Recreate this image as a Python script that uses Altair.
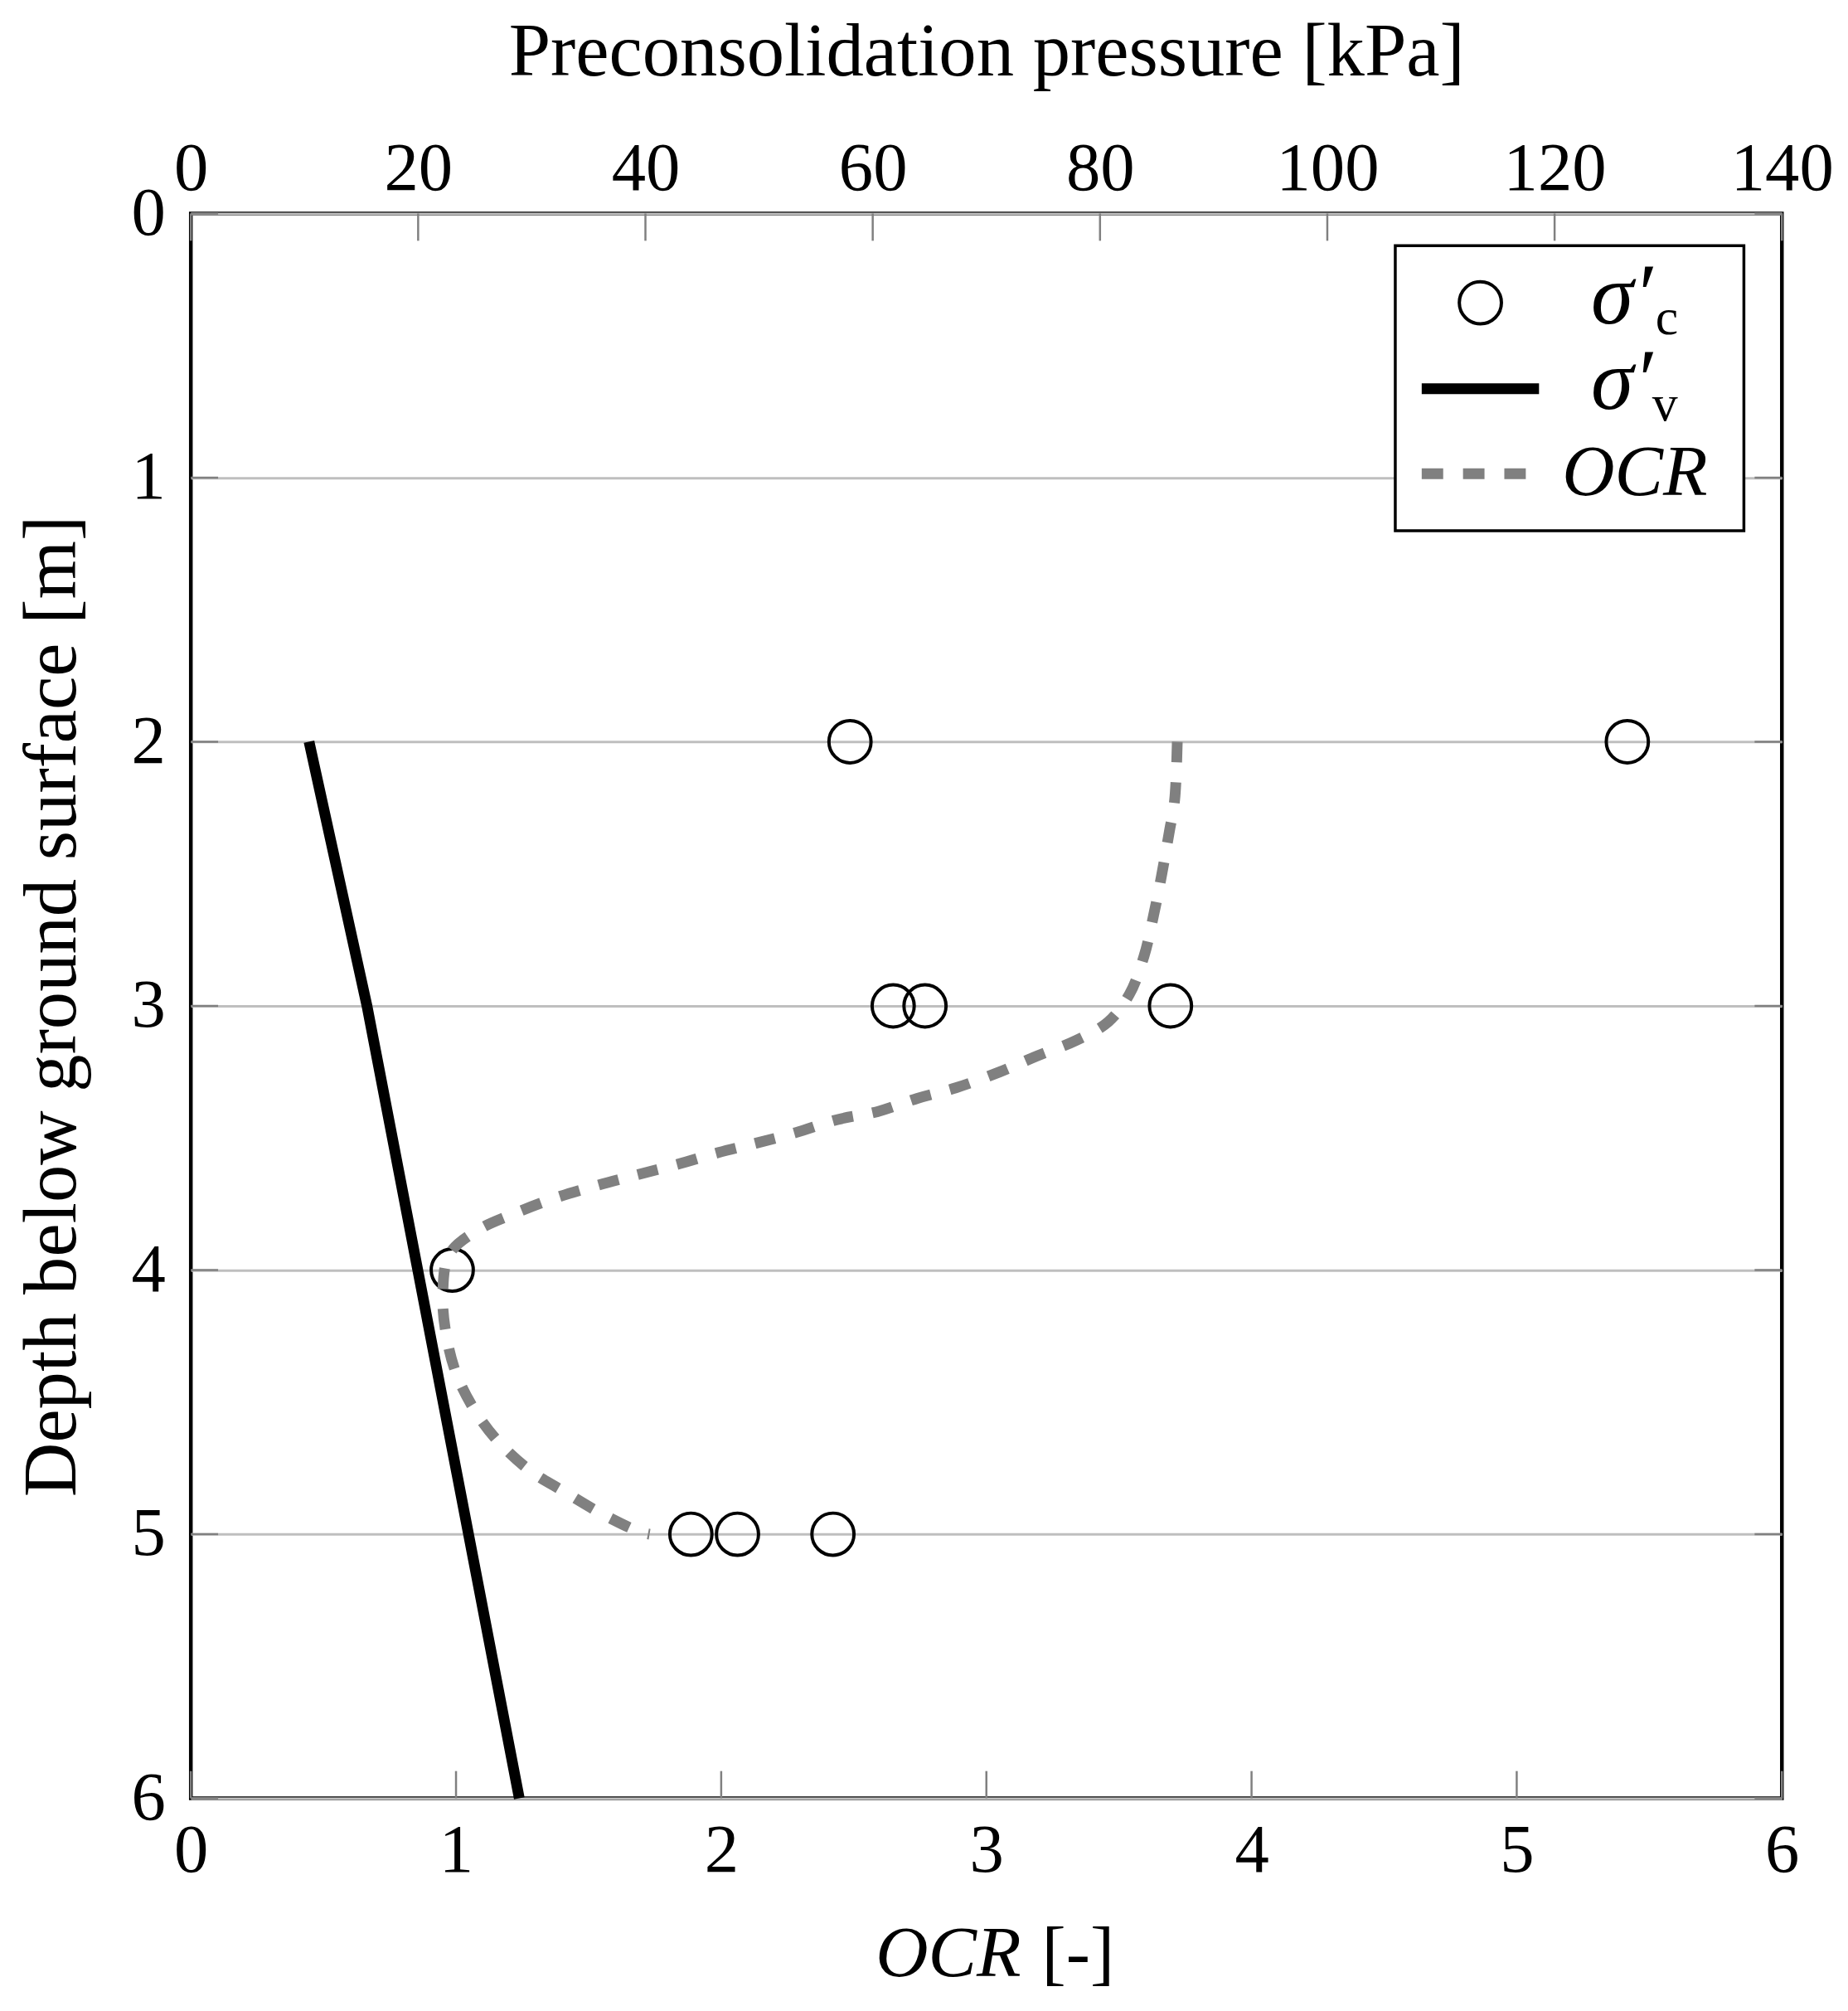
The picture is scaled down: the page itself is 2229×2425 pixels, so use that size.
import altair as alt
import pandas as pd

# ---------------- data ----------------
# preconsolidation pressure sigma'_c (circles) [kPa] vs depth [m]
sc_depth = [2, 2, 3, 3, 3, 4, 5, 5, 5]
sc_pressure = [58.0, 126.4, 61.8, 64.6, 86.2, 23.0, 44.0, 48.1, 56.5]

# effective vertical stress sigma'_v [kPa] vs depth [m]
sv_depth = [2, 3, 6]
sv_pressure = [10.4, 15.5, 28.9]

# OCR profile [-] vs depth [m]
ocr_depth = [2.00, 2.22, 2.34, 2.51, 2.66, 2.81, 2.955, 3.06, 3.13, 3.19, 3.25,
             3.31, 3.35, 3.40, 3.43, 3.48, 3.52, 3.555, 3.60, 3.64, 3.68, 3.73,
             3.79, 3.85, 3.94, 4.09, 4.24, 4.39, 4.53, 4.65, 4.76, 4.84, 4.92,
             4.99, 5.00]
ocr_value = [3.72, 3.71, 3.69, 3.66, 3.63, 3.595, 3.54, 3.46, 3.34, 3.19, 3.05,
             2.885, 2.74, 2.59, 2.44, 2.28, 2.13, 1.99, 1.835, 1.68, 1.53, 1.365,
             1.21, 1.08, 0.975, 0.95, 0.962, 1.0, 1.07, 1.16, 1.28, 1.41, 1.545,
             1.69, 1.73]

depth_ticks = [0, 1, 2, 3, 4, 5, 6]
pressure_ticks = [0, 20, 40, 60, 80, 100, 120, 140]
ocr_ticks = [0, 1, 2, 3, 4, 5, 6]

top_title = "Preconsolidation pressure [kPa]"
left_title = "Depth below ground surface [m]"
bottom_title_italic = "OCR"
bottom_title_rest = "[-]"
legend_sigma = "σ′"
legend_sub_c = "c"
legend_sub_v = "v"
legend_ocr = "OCR"

# ---------------- styling ----------------
W, H = 1926, 1918
FONT = "Liberation Serif"
FS = 88      # bottom title / legend text
TFS = 91     # top and left axis titles
LFS = 83     # tick labels
GRID = "#bfbfbf"
TICK = "#808080"
OCR_COLOR = "#808080"
TL = 33  # inward tick length

sc_df = pd.DataFrame({"depth": sc_depth, "pressure": sc_pressure})
sv_df = pd.DataFrame({"depth": sv_depth, "pressure": sv_pressure,
                      "i": list(range(len(sv_depth)))})
ocr_df = pd.DataFrame({"depth": ocr_depth, "ocr": ocr_value,
                       "i": list(range(len(ocr_depth)))})
dt_df = pd.DataFrame({"depth": depth_ticks})
pt_df = pd.DataFrame({"pressure": pressure_ticks})
ot_df = pd.DataFrame({"ocr": ocr_ticks})
one = pd.DataFrame({"k": [0]})

yscale = alt.Scale(domain=[0, 6], reverse=True, nice=False, zero=False)
pscale = alt.Scale(domain=[0, 140], nice=False, zero=False)
oscale = alt.Scale(domain=[0, 6], nice=False, zero=False)

# the same y axis is given to every layer that encodes depth, so they merge
y_axis = alt.Axis(values=depth_ticks, title=left_title, grid=True,
                  gridColor=GRID, gridWidth=3, ticks=False, tickSize=0,
                  domain=False, labelFont=FONT, labelFontSize=LFS,
                  labelColor="black", labelPadding=31, labelFlush=False,
                  labelOverlap=False, titleFont=FONT, titleFontSize=TFS,
                  titleFontWeight="normal", titleColor="black",
                  titleAngle=270, titleBaseline="alphabetic",
                  titleAlign="center", titleX=-140, titleY=H / 2)

top_axis = alt.Axis(orient="top", values=pressure_ticks, title=top_title,
                    grid=False, ticks=False, tickSize=0, domain=False,
                    labelFont=FONT, labelFontSize=LFS, labelColor="black",
                    labelBaseline="alphabetic", labelPadding=29,
                    labelFlush=False, labelOverlap=False, titleFont=FONT,
                    titleFontSize=TFS, titleFontWeight="normal",
                    titleColor="black", titleBaseline="alphabetic",
                    titleAlign="center", titleX=W / 2, titleY=-168)

bottom_axis = alt.Axis(orient="bottom", values=ocr_ticks, title="",
                       grid=False, ticks=False, tickSize=0, domain=False,
                       labelFont=FONT, labelFontSize=LFS, labelColor="black",
                       labelBaseline="alphabetic", labelPadding=88,
                       labelFlush=False, labelOverlap=False)


def Yd():
    return alt.Y("depth:Q", scale=yscale, axis=y_axis)


# ---------------- data layers ----------------
circles = alt.Chart(sc_df).mark_point(
    shape="circle", filled=False, size=2600, stroke="black",
    strokeWidth=4, opacity=1
).encode(
    x=alt.X("pressure:Q", scale=pscale, axis=top_axis),
    y=Yd(),
)

sv_line = alt.Chart(sv_df).mark_line(
    color="black", strokeWidth=13, strokeCap="butt"
).encode(
    x=alt.X("pressure:Q", scale=pscale, axis=None),
    y=Yd(),
    order=alt.Order("i:Q"),
)

top_ticks = alt.Chart(pt_df).mark_rule(color=TICK, strokeWidth=2.5).encode(
    x=alt.X("pressure:Q", scale=pscale, axis=None),
    y=alt.value(0), y2=alt.value(TL),
)

ocr_line = alt.Chart(ocr_df).mark_line(
    color=OCR_COLOR, strokeWidth=13, strokeDash=[25, 24], strokeCap="butt",
    interpolate="catmull-rom"
).encode(
    x=alt.X("ocr:Q", scale=oscale, axis=bottom_axis),
    y=Yd(),
    order=alt.Order("i:Q"),
)

bottom_ticks = alt.Chart(ot_df).mark_rule(color=TICK, strokeWidth=2.5).encode(
    x=alt.X("ocr:Q", scale=oscale, axis=None),
    y=alt.value(H - TL), y2=alt.value(H),
)

left_ticks = alt.Chart(dt_df).mark_rule(color=TICK, strokeWidth=2.5).encode(
    y=Yd(), x=alt.value(0), x2=alt.value(TL),
)
right_ticks = alt.Chart(dt_df).mark_rule(color=TICK, strokeWidth=2.5).encode(
    y=Yd(), x=alt.value(W - TL), x2=alt.value(W),
)

# bottom axis title with italic OCR
bt1 = alt.Chart(one).mark_text(
    text=bottom_title_italic, font=FONT, fontSize=FS, fontStyle="italic",
    align="right", baseline="alphabetic", color="black"
).encode(x=alt.value(1005), y=alt.value(H + 215))
bt2 = alt.Chart(one).mark_text(
    text=bottom_title_rest, font=FONT, fontSize=FS,
    align="left", baseline="alphabetic", color="black"
).encode(x=alt.value(1030), y=alt.value(H + 215))

# ---------------- legend ----------------
lg_box = alt.Chart(one).mark_rect(
    fill="white", stroke="black", strokeWidth=3.5
).encode(x=alt.value(1458), x2=alt.value(1880),
         y=alt.value(39), y2=alt.value(384))
lg_circle = alt.Chart(one).mark_point(
    shape="circle", filled=False, size=2600, stroke="black",
    strokeWidth=4, opacity=1
).encode(x=alt.value(1561), y=alt.value(108))
lg_solid = alt.Chart(one).mark_rule(
    color="black", strokeWidth=13, strokeCap="butt"
).encode(x=alt.value(1490), x2=alt.value(1632), y=alt.value(212))
lg_dash = alt.Chart(one).mark_rule(
    color=OCR_COLOR, strokeWidth=13, strokeDash=[26, 24], strokeCap="butt"
).encode(x=alt.value(1490), x2=alt.value(1616), y=alt.value(315))
lg_s1 = alt.Chart(one).mark_text(
    text=legend_sigma, font=FONT, fontSize=104, fontStyle="italic",
    align="left", baseline="alphabetic", color="black"
).encode(x=alt.value(1695), y=alt.value(133))
lg_c = alt.Chart(one).mark_text(
    text=legend_sub_c, font=FONT, fontSize=62,
    align="left", baseline="alphabetic", color="black"
).encode(x=alt.value(1773), y=alt.value(146))
lg_s2 = alt.Chart(one).mark_text(
    text=legend_sigma, font=FONT, fontSize=104, fontStyle="italic",
    align="left", baseline="alphabetic", color="black"
).encode(x=alt.value(1695), y=alt.value(236))
lg_v = alt.Chart(one).mark_text(
    text=legend_sub_v, font=FONT, fontSize=62,
    align="left", baseline="alphabetic", color="black"
).encode(x=alt.value(1769), y=alt.value(250))
lg_ocr = alt.Chart(one).mark_text(
    text=legend_ocr, font=FONT, fontSize=FS, fontStyle="italic",
    align="left", baseline="alphabetic", color="black"
).encode(x=alt.value(1660), y=alt.value(341))

chart = alt.layer(
    top_ticks, bottom_ticks, left_ticks, right_ticks,
    circles, sv_line, ocr_line,
    bt1, bt2, lg_box, lg_circle, lg_solid, lg_dash,
    lg_s1, lg_c, lg_s2, lg_v, lg_ocr
).resolve_scale(
    x="independent"
).properties(
    width=W, height=H,
    autosize=alt.AutoSizeParams(type="none"),
    padding={"left": 223, "top": 246, "right": 72, "bottom": 245},
    background="white",
).configure_view(
    stroke="black", strokeWidth=4.5
)

chart.save("out.html", embed_options={"renderer": "svg", "actions": False})
